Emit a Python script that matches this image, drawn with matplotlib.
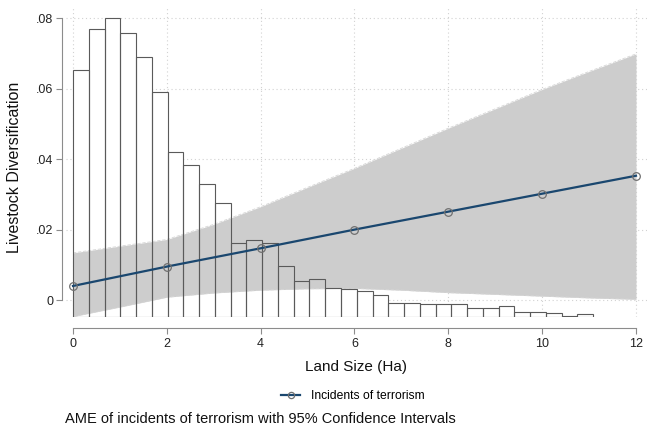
import numpy as np
import matplotlib
matplotlib.use('Agg')
import matplotlib.pyplot as plt
from matplotlib.lines import Line2D

plt.rcParams['font.family'] = ['Liberation Sans', 'DejaVu Sans']

# histogram of land size (bar tops in y-axis units, bins of ~0.336 ha)
binWidth = 0.336
barTops = [0.0653, 0.0770, 0.0800, 0.0757, 0.0689, 0.0591, 0.0421, 0.0383, 0.0330,
           0.0276, 0.0161, 0.0171, 0.0163, 0.0096, 0.0053, 0.0060, 0.0033, 0.0032,
           0.0027, 0.0013, -0.0009, -0.0007, -0.0012, -0.0012, -0.0012, -0.0024,
           -0.0024, -0.0016, -0.0033, -0.0033, -0.0037, -0.0044, -0.0040]

# AME with confidence band
bandX = np.arange(0, 13, 1)
ciUpper = [0.0134, 0.0153, 0.0172, 0.0215, 0.0265, 0.0320, 0.0374, 0.0431, 0.0488,
           0.0543, 0.0598, 0.0649, 0.0699]
ciLower = [-0.0047, -0.0020, 0.0008, 0.0020, 0.0028, 0.0032, 0.0033, 0.0028, 0.0021,
           0.0016, 0.0011, 0.0006, 0.0002]
ameX = [0, 2, 4, 6, 8, 10, 12]
ameY = [0.0040, 0.0095, 0.0147, 0.0200, 0.0251, 0.0302, 0.0353]

xTicks = [0, 2, 4, 6, 8, 10, 12]
yTicks = [0, 0.02, 0.04, 0.06, 0.08]
yTickLabels = ['0', '.02', '.04', '.06', '.08']

sumbuX = 'Land Size (Ha)'
sumbuY = 'Livestock Diversification'
labelLine = 'Incidents of terrorism'
caption = 'AME of incidents of terrorism with 95% Confidence Intervals'

W, H = 647, 429
fig = plt.figure(figsize=(W / 100, H / 100), dpi=100)
ax = fig.add_axes([66 / W, (H - 317.3) / H, 581 / W, 309.3 / H])

ymin = -0.0049
ax.set_xlim(-7 / 46.9, 12 + 11 / 46.9)
ax.set_ylim(ymin, 0.08 + 10.3 / 3521)

# grid
ax.set_xticks(xTicks)
ax.set_yticks(yTicks)
ax.grid(True, color='#d2d2d2', ls=(0, (1, 2.5)), lw=0.8)
ax.set_axisbelow(True)

# bars: fill, band, then outlines on top
left = np.arange(len(barTops)) * binWidth
heights = np.array(barTops) - ymin
ax.bar(left, heights, binWidth, bottom=ymin, align='edge', color='white',
       edgecolor='none', zorder=1)
ax.fill_between(bandX, ciLower, ciUpper, color='#cdcdcd', lw=0, zorder=2)
ax.plot(bandX, ciUpper, color='#d6d6d6', ls=(0, (4, 2)), lw=0.6, zorder=2)
ax.plot(bandX, ciLower, color='#d6d6d6', ls=(0, (4, 2)), lw=0.6, zorder=2)
ax.bar(left, heights, binWidth, bottom=ymin, align='edge', color='none',
       edgecolor='#5a5a5a', lw=0.8, zorder=3)

ax.plot(ameX, ameY, color='#1a476f', lw=1.6, marker='o', ms=5.5,
        mfc='none', mec='#707070', mew=0.9, zorder=4)

# axes styling
for s in ['top', 'right']:
    ax.spines[s].set_visible(False)
ax.spines['left'].set_position(('outward', 3))
ax.spines['bottom'].set_position(('outward', 8))
ax.spines['left'].set_bounds(0, 0.08)
ax.spines['bottom'].set_bounds(0, 12)
for s in ['left', 'bottom']:
    ax.spines[s].set_color('#8c8c8c')
    ax.spines[s].set_linewidth(0.8)
ax.set_yticklabels(yTickLabels)
ax.tick_params(axis='both', colors='#8c8c8c', labelcolor='#222222', length=4,
               width=0.8, labelsize=9)
ax.tick_params(axis='x', pad=3)
ax.tick_params(axis='y', pad=2)

fig.text(15 / W, 1 - 167 / H, sumbuY, rotation=90, ha='center', va='center',
         fontsize=11.5, color='#111111')
fig.text(356 / W, 1 - 367 / H, sumbuX, ha='center', va='center', fontsize=11,
         color='#111111')

handle = Line2D([], [], color='#1a476f', lw=1.6, marker='o', ms=4.5, mfc='none',
                mec='#707070', mew=0.9)
fig.legend([handle], [labelLine], loc='center', bbox_to_anchor=(353 / W, 1 - 396 / H),
           frameon=False, fontsize=8.7, handlelength=1.6, handletextpad=0.9)

fig.text(65 / W, 1 - 419 / H, caption, ha='left', va='center', fontsize=10.5,
         color='#111111')

fig.savefig('out.png', dpi=100)
plt.close(fig)
